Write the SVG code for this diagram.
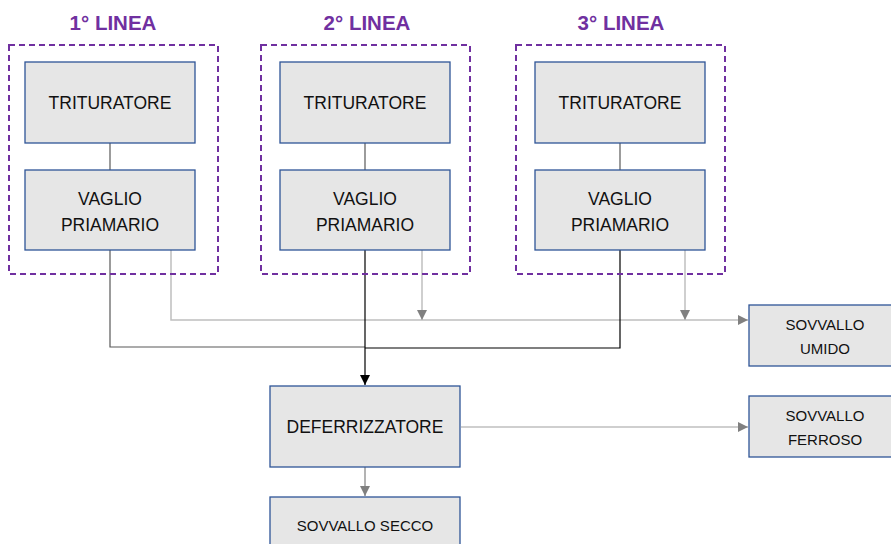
<svg xmlns="http://www.w3.org/2000/svg" width="891" height="544" viewBox="0 0 891 544">
<defs>
<style>
.grp{fill:none;stroke:#7030A0;stroke-width:2;stroke-dasharray:6,4}
.ttl{font-family:"Liberation Sans",Arial,sans-serif;font-weight:bold;font-size:20.5px;fill:#7030A0;text-anchor:middle}
.box{fill:#e6e6e6;stroke:#2f5597;stroke-width:1.3}
.t{font-family:"Liberation Sans",Arial,sans-serif;font-size:17.5px;fill:#111;text-anchor:middle}
.s{font-family:"Liberation Sans",Arial,sans-serif;font-size:15px;fill:#111;text-anchor:middle}
.dk{fill:none;stroke:#595959;stroke-width:1.2}
.bk{fill:none;stroke:#000;stroke-width:1.2}
.lg{fill:none;stroke:#bfbfbf;stroke-width:1.5}
.md{fill:none;stroke:#808080;stroke-width:1.2}
</style>
<marker id="ab" viewBox="0 0 10 10" refX="10" refY="5" markerWidth="10" markerHeight="10" markerUnits="userSpaceOnUse" orient="auto"><path d="M0,0L10,5L0,10z" fill="#000"/></marker>
<marker id="ag" viewBox="0 0 10 10" refX="10" refY="5" markerWidth="10" markerHeight="10" markerUnits="userSpaceOnUse" orient="auto"><path d="M0,0L10,5L0,10z" fill="#808080"/></marker>
</defs>
<g id="connectors">
<line class="dk" x1="110" y1="143" x2="110" y2="170"/>
<line class="dk" x1="365" y1="143" x2="365" y2="170"/>
<line class="dk" x1="620" y1="143" x2="620" y2="170"/>
<polyline class="lg" points="171,250 171,320 748,320" marker-end="url(#ag)"/>
<line class="lg" x1="422" y1="250" x2="422" y2="320" marker-end="url(#ag)"/>
<line class="lg" x1="685" y1="250" x2="685" y2="320" marker-end="url(#ag)"/>
<polyline class="dk" points="110,250 110,347 365,347"/>
<polyline class="bk" points="620,250 620,348 365,348"/>
<line class="bk" x1="365" y1="250" x2="365" y2="385" marker-end="url(#ab)"/>
<line class="lg" x1="461" y1="427" x2="748" y2="427" marker-end="url(#ag)"/>
<line class="md" x1="365" y1="467" x2="365" y2="496" marker-end="url(#ag)"/>
</g>
<g id="line1">
<text class="ttl" x="113" y="30">1° LINEA</text>
<rect class="grp" x="9" y="45" width="209" height="229"/>
</g>
<g id="line2">
<text class="ttl" x="367" y="30">2° LINEA</text>
<rect class="grp" x="261" y="45" width="209" height="229"/>
</g>
<g id="line3">
<text class="ttl" x="621" y="30">3° LINEA</text>
<rect class="grp" x="516" y="45" width="209" height="229"/>
</g>
<g id="trituratore1"><rect class="box" x="25" y="62" width="170" height="81"/><text class="t" x="110" y="109">TRITURATORE</text></g>
<g id="vaglio1"><rect class="box" x="25" y="170" width="170" height="80"/><text class="t" x="110" y="205">VAGLIO</text><text class="t" x="110" y="231">PRIAMARIO</text></g>
<g id="trituratore2"><rect class="box" x="280" y="62" width="170" height="81"/><text class="t" x="365" y="109">TRITURATORE</text></g>
<g id="vaglio2"><rect class="box" x="280" y="170" width="170" height="80"/><text class="t" x="365" y="205">VAGLIO</text><text class="t" x="365" y="231">PRIAMARIO</text></g>
<g id="trituratore3"><rect class="box" x="535" y="62" width="170" height="81"/><text class="t" x="620" y="109">TRITURATORE</text></g>
<g id="vaglio3"><rect class="box" x="535" y="170" width="170" height="80"/><text class="t" x="620" y="205">VAGLIO</text><text class="t" x="620" y="231">PRIAMARIO</text></g>
<g id="deferrizzatore"><rect class="box" x="270" y="386" width="190" height="81"/><text class="t" x="365" y="433">DEFERRIZZATORE</text></g>
<g id="sovvallo_secco"><rect class="box" x="270" y="497" width="190" height="60"/><text class="s" x="365" y="531">SOVVALLO SECCO</text></g>
<g id="sovvallo_umido"><rect class="box" x="749" y="305" width="155" height="61"/><text class="s" x="825" y="330">SOVVALLO</text><text class="s" x="825" y="354">UMIDO</text></g>
<g id="sovvallo_ferroso"><rect class="box" x="749" y="396" width="155" height="61"/><text class="s" x="825" y="421">SOVVALLO</text><text class="s" x="825" y="445">FERROSO</text></g>
</svg>
